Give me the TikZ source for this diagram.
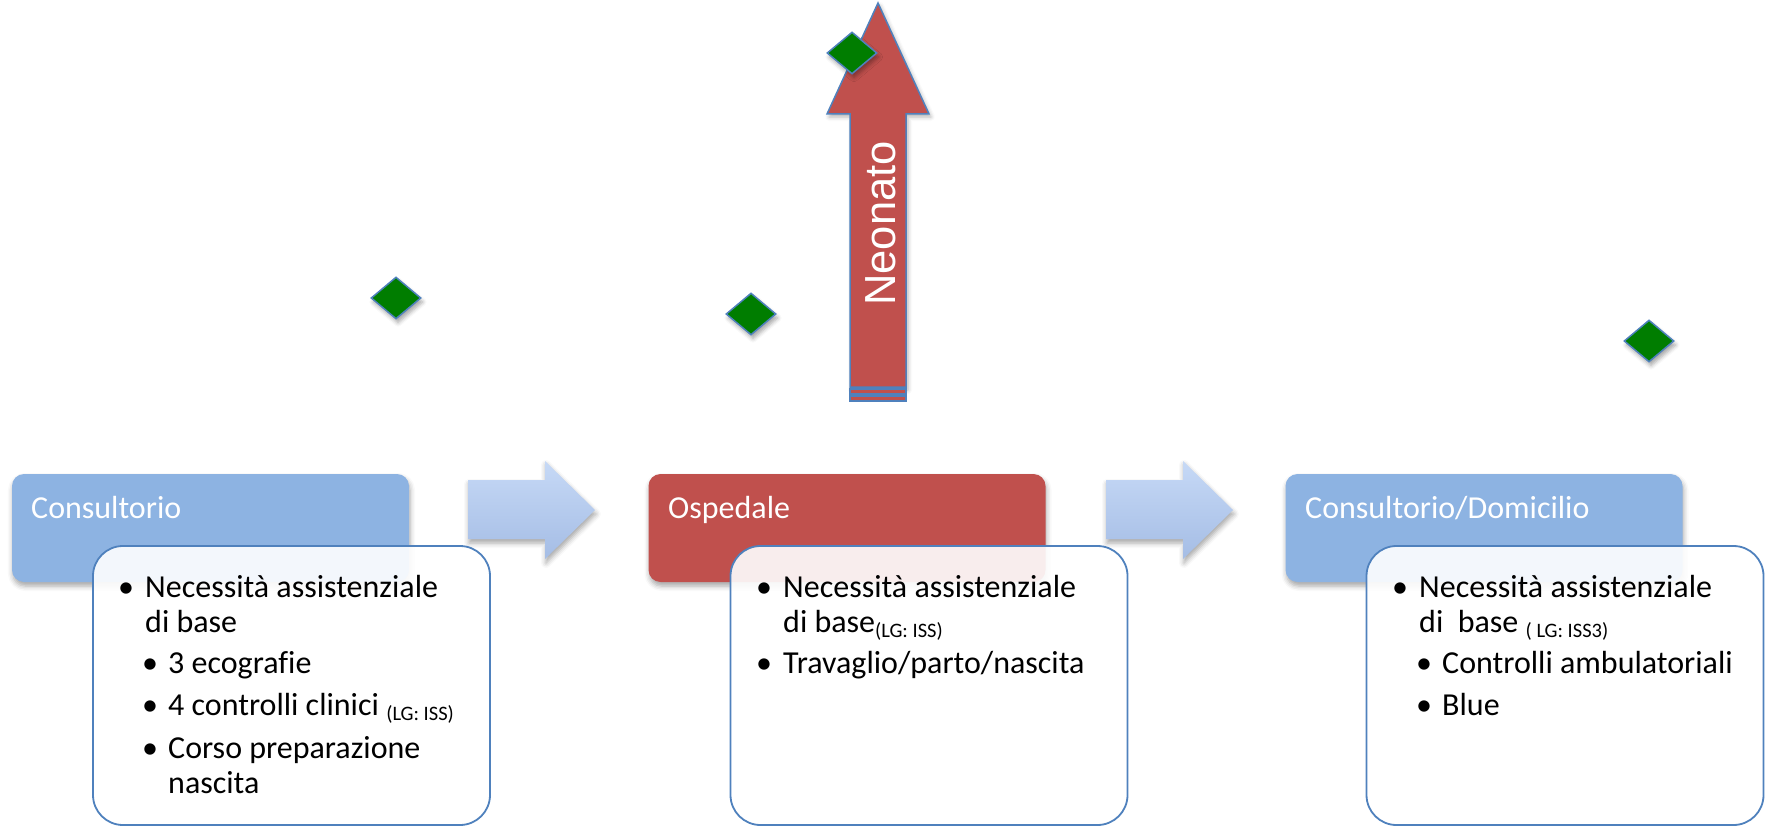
\documentclass[tikz,border=0pt]{standalone}
\usepackage{fontspec}
\setmainfont{Carlito}[Ligatures=CommonOff]
\newfontfamily\arialfont{Liberation Sans}
\usetikzlibrary{shapes.geometric,shadows.blur}
\definecolor{hdrblue}{RGB}{141,179,226}
\definecolor{hdrred}{RGB}{192,80,77}
\definecolor{edgeblue}{RGB}{79,129,189}
\definecolor{arrtop}{RGB}{198,217,246}
\definecolor{arrbot}{RGB}{165,189,229}
\definecolor{gemgreen}{RGB}{0,125,0}
\newcommand\lgsub[1]{\raisebox{-5pt}{\fontsize{20.5}{24}\selectfont #1}}
\begin{document}
\begin{tikzpicture}[x=1pt,y=-1pt,
  softshadow/.style={blur shadow={shadow xshift=1pt, shadow yshift=-4pt, shadow blur radius=5pt, shadow opacity=35}},
  hdr/.style={rounded corners=12pt, minimum width=397pt, minimum height=108pt, inner sep=0pt, softshadow},
  card/.style={draw=edgeblue, line width=1.8pt, fill=white, fill opacity=0.9, rounded corners=30pt,
    minimum width=397pt, minimum height=279pt, inner sep=0pt},
  hdrtext/.style={anchor=base west, inner sep=0pt, text=white, font=\fontsize{32}{38}\selectfont},
  txt/.style={anchor=base west, inner sep=0pt, font=\fontsize{32}{38}\selectfont},
  dot/.style={anchor=base, inner sep=0pt, font=\fontsize{32}{38}\selectfont},
  gem/.style={diamond, draw=edgeblue, line width=1.5pt, fill=gemgreen, minimum width=50pt, minimum height=42pt,
    inner sep=0pt, shape aspect=1.2, blur shadow={shadow xshift=2pt, shadow yshift=-4pt, shadow blur radius=4pt, shadow opacity=35}},
  flow/.style={top color=arrtop, bottom color=arrbot, softshadow},
  stem/.style={fill=hdrred, draw=edgeblue, line width=1.5pt}
]
\useasboundingbox (0,0) rectangle (1769,826);

% section headers
\node[hdr, fill=hdrblue] (h1) at (210.5,528) {};
\node[hdr, fill=hdrred]  (h2) at (847,528) {};
\node[hdr, fill=hdrblue] (h3) at (1484,528) {};
\node[hdrtext] (h1t) at (31,518) {Consultorio};
\node[hdrtext] (h2t) at (668,518) {Ospedale};
\node[hdrtext] (h3t) at (1305,518) {Consultorio/Domicilio};

% flow arrows between sections
\shade[flow] (468,480) -- (545,480) -- (545,461) -- (595,510) -- (545,559) -- (545,539) -- (468,539) -- cycle;
\shade[flow] (1106,480) -- (1183,480) -- (1183,461) -- (1233,510) -- (1183,559) -- (1183,539) -- (1106,539) -- cycle;

% detail cards
\node[card] (c1) at (291.5,685.5) {};
\node[card] (c2) at (929,685.5) {};
\node[card] (c3) at (1565,685.5) {};

% card 1
\node[dot] (b11) at (126,597) {•};
\node[txt] (t11) at (145,597) {Necessità assistenziale};
\node[txt] (t12) at (145,632) {di base};
\node[dot] (b12) at (150,673) {•};
\node[txt] (t13) at (168,673) {3 ecografie};
\node[dot] (b13) at (150,715) {•};
\node[txt] (t14) at (168,715) {4 controlli clinici \lgsub{(LG: ISS)}};
\node[dot] (b14) at (150,758) {•};
\node[txt] (t15) at (168,758) {Corso preparazione};
\node[txt] (t16) at (168,793) {nascita};

% card 2
\node[dot] (b21) at (764,597) {•};
\node[txt] (t21) at (783,597) {Necessità assistenziale};
\node[txt] (t22) at (783,632) {di base\lgsub{(LG: ISS)}};
\node[dot] (b22) at (764,673) {•};
\node[txt] (t23) at (783,673) {Travaglio/parto/nascita};

% card 3
\node[dot] (b31) at (1400,597) {•};
\node[txt] (t31) at (1419,597) {Necessità assistenziale};
\node[txt] (t32) at (1419,632) {di\ \ base \lgsub{( LG: ISS3)}};
\node[dot] (b32) at (1424,673) {•};
\node[txt] (t33) at (1442,673) {Controlli ambulatoriali};
\node[dot] (b33) at (1424,715) {•};
\node[txt] (t34) at (1442,715) {Blue};

% newborn arrow
\draw[stem, blur shadow={shadow xshift=2pt, shadow yshift=-3pt, shadow blur radius=4pt, shadow opacity=30}]
  (878,3) -- (929,114) -- (906,114) -- (906,387) -- (850,387) -- (850,114) -- (827,114) -- cycle;
\draw[stem] (850,389) rectangle (906,394);
\draw[stem] (850,396) rectangle (906,401);
\node[rotate=90, anchor=base, inner sep=0pt, text=white, font=\arialfont\fontsize{43.5}{50}\selectfont] (neo) at (895,223.5) {Neonato};

% markers
\node[gem] (g1) at (396,298) {};
\node[gem] (g2) at (751,314) {};
\node[gem] (g3) at (1649,341) {};
\node[gem] (g4) at (852,53) {};
\end{tikzpicture}
\end{document}
